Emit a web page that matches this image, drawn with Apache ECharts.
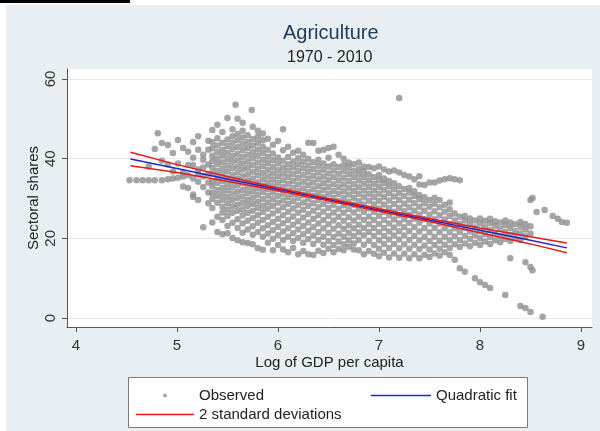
<!DOCTYPE html>
<html>
<head>
<meta charset="utf-8">
<script src="https://cdn.jsdelivr.net/npm/echarts@6/dist/echarts.min.js"></script>
<style>html,body{margin:0;padding:0;background:#fff;}#chart{width:600px;height:431px;}</style>
</head>
<body>
<div id="chart"></div>
<script>
const xTicks = [4, 5, 6, 7, 8, 9];
const yTicks = [0, 20, 40, 60];

// Observed points, read column by column: [log GDP per capita, [sectoral shares...]]
const obsColumns = [
  [4.53, [34.6]],
  [4.60, [34.6]],
  [4.66, [34.6]],
  [4.72, [34.6, 38.0]],
  [4.78, [34.6, 42.4]],
  [4.81, [46.4]],
  [4.85, [34.6, 43.9, 39.5]],
  [4.91, [34.8, 43.4, 38.5]],
  [4.96, [35.0, 41.4, 36.8]],
  [5.01, [35.2, 44.7, 38.8]],
  [5.06, [35.5, 42.7, 36.5, 33.0]],
  [5.11, [41.7, 35.8, 32.6, 38.4]],
  [5.16, [44.2, 38.4, 31.0, 30.4, 35.0, 40.2]],
  [5.21, [42.2, 37.3, 29.6, 34.2, 36.0, 45.6]],
  [5.26, [39.7, 32.9, 22.8, 35.5, 37.8, 41.0]],
  [5.31, [42.2, 38.5, 36.2, 34.0, 31.5, 28.8, 44.5]],
  [5.35, [24.0, 27.6, 29.9, 31.3, 33.0, 34.3, 36.2, 37.7, 39.4, 40.7, 42.6, 44.2, 47.2]],
  [5.40, [21.6, 25.4, 28.9, 30.6, 32.1, 33.9, 35.3, 36.9, 38.6, 40.0, 41.6, 43.3, 45.1, 48.5]],
  [5.45, [21.0, 24.6, 26.5, 27.9, 29.7, 31.2, 32.7, 34.4, 36.0, 37.5, 39.1, 40.8, 42.2, 44.0, 46.7]],
  [5.50, [21.3, 23.1, 25.6, 27.2, 28.8, 30.4, 32.0, 33.5, 35.1, 36.8, 38.3, 39.9, 41.5, 43.2, 44.8, 50.2]],
  [5.55, [20.1, 23.9, 26.4, 28.0, 29.6, 31.2, 32.8, 34.3, 35.9, 37.6, 39.2, 40.7, 42.4, 44.0, 45.6, 47.4]],
  [5.58, [53.5]],
  [5.60, [19.5, 22.6, 24.8, 26.9, 28.4, 30.1, 31.7, 33.3, 34.9, 36.5, 38.0, 39.6, 41.2, 42.9, 44.6, 46.2, 50.0]],
  [5.65, [19.0, 21.4, 23.7, 25.7, 27.3, 28.9, 30.5, 32.1, 33.8, 35.6, 37.3, 38.8, 40.4, 42.1, 43.7, 45.3, 47.0, 49.0]],
  [5.70, [18.8, 22.2, 24.4, 26.4, 28.1, 29.6, 31.3, 32.9, 34.5, 36.1, 37.7, 39.3, 41.0, 42.7, 44.2, 45.9]],
  [5.74, [52.2]],
  [5.75, [18.5, 20.9, 23.0, 25.1, 26.9, 28.6, 30.2, 31.8, 33.4, 35.0, 36.7, 38.4, 40.1, 41.6, 43.3, 44.9, 48.0]],
  [5.80, [17.5, 21.6, 23.9, 25.8, 27.6, 29.2, 30.9, 32.5, 34.1, 35.8, 37.4, 39.0, 40.7, 42.3, 44.0, 45.5, 47.0]],
  [5.85, [17.1, 20.4, 22.5, 24.6, 26.6, 28.2, 29.9, 31.6, 33.2, 34.8, 36.4, 38.1, 39.7, 41.4, 43.0, 44.6, 46.3]],
  [5.90, [18.9, 21.2, 23.3, 25.4, 27.4, 29.0, 30.7, 32.4, 34.0, 35.6, 37.2, 38.9, 40.5, 42.2, 45.0]],
  [5.95, [17.0, 19.9, 22.0, 24.1, 26.2, 28.1, 29.8, 31.5, 33.1, 34.7, 36.3, 37.9, 39.6, 41.3, 43.5]],
  [6.00, [18.3, 20.8, 22.9, 24.9, 27.0, 28.9, 30.6, 32.3, 33.9, 35.5, 37.1, 38.8, 40.3, 44.4]],
  [6.05, [17.2, 19.6, 21.7, 23.8, 25.8, 27.8, 29.5, 31.2, 32.9, 34.6, 36.2, 37.8, 39.5, 42.1, 47.4]],
  [6.10, [16.5, 20.4, 22.5, 24.6, 26.7, 28.6, 30.3, 32.0, 33.7, 35.4, 37.0, 38.6, 40.4, 43.0]],
  [6.15, [17.6, 19.3, 21.3, 23.4, 25.5, 27.5, 29.3, 31.0, 32.7, 34.4, 36.1, 37.8, 39.3, 41.5]],
  [6.20, [16.0, 20.1, 22.2, 24.3, 26.4, 28.3, 30.1, 31.8, 33.5, 35.2, 36.9, 38.5, 40.1, 42.0]],
  [6.25, [16.8, 18.9, 21.0, 23.1, 25.2, 27.2, 29.0, 30.8, 32.5, 34.2, 35.9, 37.6, 39.2, 41.0]],
  [6.30, [16.0, 19.8, 21.9, 24.0, 26.1, 28.1, 29.8, 31.6, 33.3, 35.0, 36.7, 38.3, 40.0, 44.0]],
  [6.35, [15.8, 18.6, 20.7, 22.8, 24.9, 26.9, 28.8, 30.6, 32.3, 34.0, 35.7, 37.4, 39.1, 43.9]],
  [6.40, [16.9, 19.6, 21.6, 23.7, 25.8, 27.8, 29.6, 31.4, 33.1, 34.8, 36.5, 38.2, 39.7, 42.0]],
  [6.45, [16.3, 18.4, 20.4, 22.5, 24.6, 26.7, 28.6, 30.4, 32.1, 33.8, 35.5, 37.2, 38.8, 42.2]],
  [6.50, [17.4, 19.3, 21.4, 23.5, 25.6, 27.6, 29.4, 31.2, 32.9, 34.6, 36.3, 38.0, 40.2, 42.7]],
  [6.55, [16.5, 18.3, 20.3, 22.4, 24.5, 26.5, 28.4, 30.2, 31.9, 33.6, 35.3, 37.0, 38.6, 43.0]],
  [6.60, [17.3, 19.2, 21.2, 23.3, 25.4, 27.4, 29.3, 31.1, 32.8, 34.5, 36.2, 37.9, 41.0]],
  [6.65, [17.0, 18.5, 20.4, 22.4, 24.4, 26.4, 28.3, 30.1, 31.8, 33.5, 35.2, 36.9, 38.4, 40.0]],
  [6.70, [17.9, 19.5, 21.4, 23.3, 25.3, 27.3, 29.2, 31.0, 32.7, 34.4, 36.1, 37.7, 39.0]],
  [6.75, [17.2, 18.7, 20.6, 22.5, 24.5, 26.5, 28.4, 30.2, 31.9, 33.6, 35.3, 36.9, 38.6]],
  [6.80, [17.0, 19.6, 21.5, 23.4, 25.4, 27.4, 29.3, 31.1, 32.8, 34.5, 36.0, 37.4, 39.0]],
  [6.85, [16.0, 18.4, 20.7, 22.6, 24.6, 26.6, 28.5, 30.3, 32.0, 33.7, 35.3, 36.8, 38.0]],
  [6.90, [16.8, 19.4, 21.6, 23.5, 25.5, 27.5, 29.4, 31.2, 32.9, 34.5, 36.1, 37.9]],
  [6.95, [16.1, 18.3, 20.6, 22.6, 24.6, 26.6, 28.5, 30.3, 32.0, 33.7, 35.3, 37.6]],
  [7.00, [15.5, 17.4, 19.5, 21.6, 23.6, 25.6, 27.5, 29.4, 31.2, 32.9, 34.5, 35.9, 38.0]],
  [7.05, [16.4, 18.6, 20.6, 22.6, 24.6, 26.6, 28.5, 30.4, 32.1, 33.8, 35.0, 37.3]],
  [7.10, [15.2, 17.6, 19.7, 21.7, 23.7, 25.7, 27.6, 29.5, 31.3, 33.0, 34.4, 36.8]],
  [7.15, [16.2, 18.6, 20.7, 22.7, 24.7, 26.7, 28.6, 30.5, 32.3, 33.8, 37.0]],
  [7.20, [15.1, 17.5, 19.7, 21.8, 23.8, 25.8, 27.7, 29.6, 31.4, 33.1, 36.5, 55.2]],
  [7.25, [16.1, 18.5, 20.7, 22.8, 24.8, 26.8, 28.7, 30.6, 32.4, 35.9]],
  [7.30, [15.0, 17.4, 19.6, 21.8, 23.9, 25.9, 27.8, 29.7, 31.5, 32.6, 35.5]],
  [7.35, [16.0, 18.4, 20.6, 22.8, 24.9, 26.9, 28.8, 30.6, 31.8, 34.8]],
  [7.40, [15.0, 17.3, 19.5, 21.7, 23.9, 26.0, 27.9, 29.8, 30.9, 33.5, 35.6]],
  [7.45, [15.9, 18.2, 20.4, 22.6, 24.8, 26.9, 28.8, 30.3, 33.4]],
  [7.50, [15.3, 17.2, 19.3, 21.5, 23.7, 25.9, 27.9, 29.6, 34.0]],
  [7.55, [16.2, 18.3, 20.4, 22.6, 24.8, 26.8, 28.7, 30.2, 34.0]],
  [7.60, [15.6, 17.4, 19.4, 21.5, 23.7, 25.8, 27.8, 29.6, 34.5]],
  [7.65, [16.5, 18.4, 20.4, 22.5, 24.7, 26.7, 28.4, 34.8]],
  [7.70, [15.8, 17.6, 19.5, 21.5, 23.6, 25.6, 27.3, 29.0, 35.1]],
  [7.75, [14.6, 18.5, 20.5, 22.5, 24.5, 26.2, 34.8]],
  [7.80, [12.5, 17.8, 19.6, 21.6, 23.6, 25.4, 34.6]],
  [7.85, [11.6, 18.7, 20.6, 22.6, 24.5, 25.6]],
  [7.90, [18.0, 19.8, 21.7, 23.6, 25.0]],
  [7.95, [10.0, 18.9, 20.8, 22.7, 24.5]],
  [8.00, [9.0, 18.3, 20.0, 21.8, 23.7, 25.0]],
  [8.05, [8.3, 19.2, 21.0, 22.8, 24.4]],
  [8.10, [7.5, 18.6, 20.3, 22.0, 23.8, 24.9]],
  [8.15, [19.5, 21.3, 23.1, 24.3]],
  [8.20, [19.0, 20.6, 22.4, 24.0]],
  [8.25, [5.8, 19.8, 21.6, 23.3, 24.5]],
  [8.30, [15.0, 19.3, 20.9, 22.6, 24.0]],
  [8.35, [20.1, 21.8, 23.5]],
  [8.40, [3.0, 19.6, 21.2, 22.9, 24.1]],
  [8.45, [2.5, 14.0, 20.5, 22.2, 23.6]],
  [8.50, [1.5, 12.8, 21.2, 23.0, 29.6]],
  [8.52, [12.0, 30.1]],
  [8.56, [26.6]],
  [8.62, [0.3]],
  [8.64, [27.1]],
  [8.72, [25.6]],
  [8.77, [24.9]],
  [8.81, [24.1]],
  [8.86, [23.9]]
];

// Quadratic fit and its 2-standard-deviation band
const fitX   = [4.54, 5.0, 5.5, 6.0, 6.5, 7.0, 7.5, 8.0, 8.5, 8.86];
const fitY   = [39.9, 37.5, 34.9, 32.3, 29.7, 27.1, 24.6, 22.0, 19.5, 17.6];
const upperY = [41.6, 38.5, 35.5, 32.65, 30.0, 27.4, 25.0, 22.6, 20.4, 18.8];
const lowerY = [38.2, 36.5, 34.3, 31.95, 29.4, 26.8, 24.2, 21.4, 18.6, 16.4];

const observed = [];
obsColumns.forEach(([x, ys]) => ys.forEach(y => observed.push([x, y])));
const pair = ys => fitX.map((x, i) => [x, ys[i]]);

const chart = echarts.init(document.getElementById('chart'), null, {renderer: 'canvas'});
const FONT = 'Liberation Sans';
const axisColor = '#555';
const BLUE = '#2424c8';
const RED = '#e51b1b';
const legendText = {fontFamily: FONT, fontSize: 15, color: '#222'};

chart.setOption({
  backgroundColor: '#ffffff',
  animation: false,
  textStyle: {fontFamily: FONT},
  graphic: [
    {type: 'rect', z: -20, silent: true, shape: {x: 6, y: 5, width: 594, height: 426}, style: {fill: '#e8eef1'}},
    {type: 'rect', z: -19, silent: true, shape: {x: 0, y: 0, width: 130, height: 3}, style: {fill: '#000'}},
    {type: 'rect', z: -18, silent: true, shape: {x: 128.5, y: 377.5, width: 399, height: 50}, style: {fill: '#fff', stroke: '#7a7a7a', lineWidth: 1}}
  ],
  title: [
    {text: 'Agriculture', left: 283, top: 23, padding: 0,
     textStyle: {fontFamily: FONT, fontSize: 20, fontWeight: 'normal', color: '#1e3a5c'}},
    {text: '1970 - 2010', left: 287, top: 50, padding: 0,
     textStyle: {fontFamily: FONT, fontSize: 16, fontWeight: 'normal', color: '#222'}}
  ],
  grid: {left: 67, right: 8, top: 69, bottom: 104, show: true, backgroundColor: '#ffffff', borderWidth: 0},
  xAxis: {
    type: 'value', min: 3.911, max: 9.109,
    name: 'Log of GDP per capita', nameLocation: 'middle', nameGap: 28, nameMoveOverlap: false,
    nameTextStyle: {fontFamily: FONT, fontSize: 15, color: '#222'},
    axisLine: {show: true, onZero: false, lineStyle: {color: axisColor, width: 1}},
    axisTick: {show: true, length: 5, customValues: xTicks, lineStyle: {color: axisColor}},
    axisLabel: {customValues: xTicks, margin: 11, fontSize: 15, color: '#333', fontFamily: FONT},
    splitLine: {show: false}
  },
  yAxis: {
    type: 'value', min: -2.26, max: 62.5,
    name: 'Sectoral shares', nameLocation: 'middle', nameGap: 26, nameMoveOverlap: false,
    nameTextStyle: {fontFamily: FONT, fontSize: 15, color: '#222'},
    axisLine: {show: true, onZero: false, lineStyle: {color: axisColor, width: 1}},
    axisTick: {show: true, length: 5, customValues: yTicks, lineStyle: {color: axisColor}},
    axisLabel: {customValues: yTicks, rotate: 90, margin: 9, fontSize: 15, color: '#333', fontFamily: FONT},
    splitLine: {show: true, lineStyle: {color: '#eaeaea', width: 1}}
  },
  legend: [
    {data: [{name: 'Observed', icon: 'circle'}], left: 163, top: 388, padding: 0,
     itemWidth: 58, itemHeight: 4, selectedMode: false, textStyle: legendText},
    {data: [{name: '2 standard deviations', icon: 'rect'}], left: 136, top: 407, padding: 0,
     itemWidth: 58, itemHeight: 1.5, selectedMode: false, textStyle: legendText},
    {data: [{name: 'Quadratic fit', icon: 'rect'}], left: 371, top: 388, padding: 0,
     itemWidth: 60, itemHeight: 1.5, selectedMode: false, textStyle: legendText}
  ],
  series: [
    {name: 'Observed', type: 'scatter', data: observed, symbol: 'circle', symbolSize: 6.5,
     itemStyle: {color: '#8e8e8e'}, z: 2},
    {name: 'Quadratic fit', type: 'line', data: pair(fitY), showSymbol: false, symbol: 'none',
     itemStyle: {color: BLUE}, lineStyle: {color: BLUE, width: 1.5}, z: 3},
    {name: '2 standard deviations', type: 'line', data: pair(upperY), showSymbol: false, symbol: 'none',
     itemStyle: {color: RED}, lineStyle: {color: RED, width: 1.5}, z: 4},
    {name: '2 standard deviations', type: 'line', data: pair(lowerY), showSymbol: false, symbol: 'none',
     itemStyle: {color: RED}, lineStyle: {color: RED, width: 1.5}, z: 4}
  ]
});
</script>
</body>
</html>
